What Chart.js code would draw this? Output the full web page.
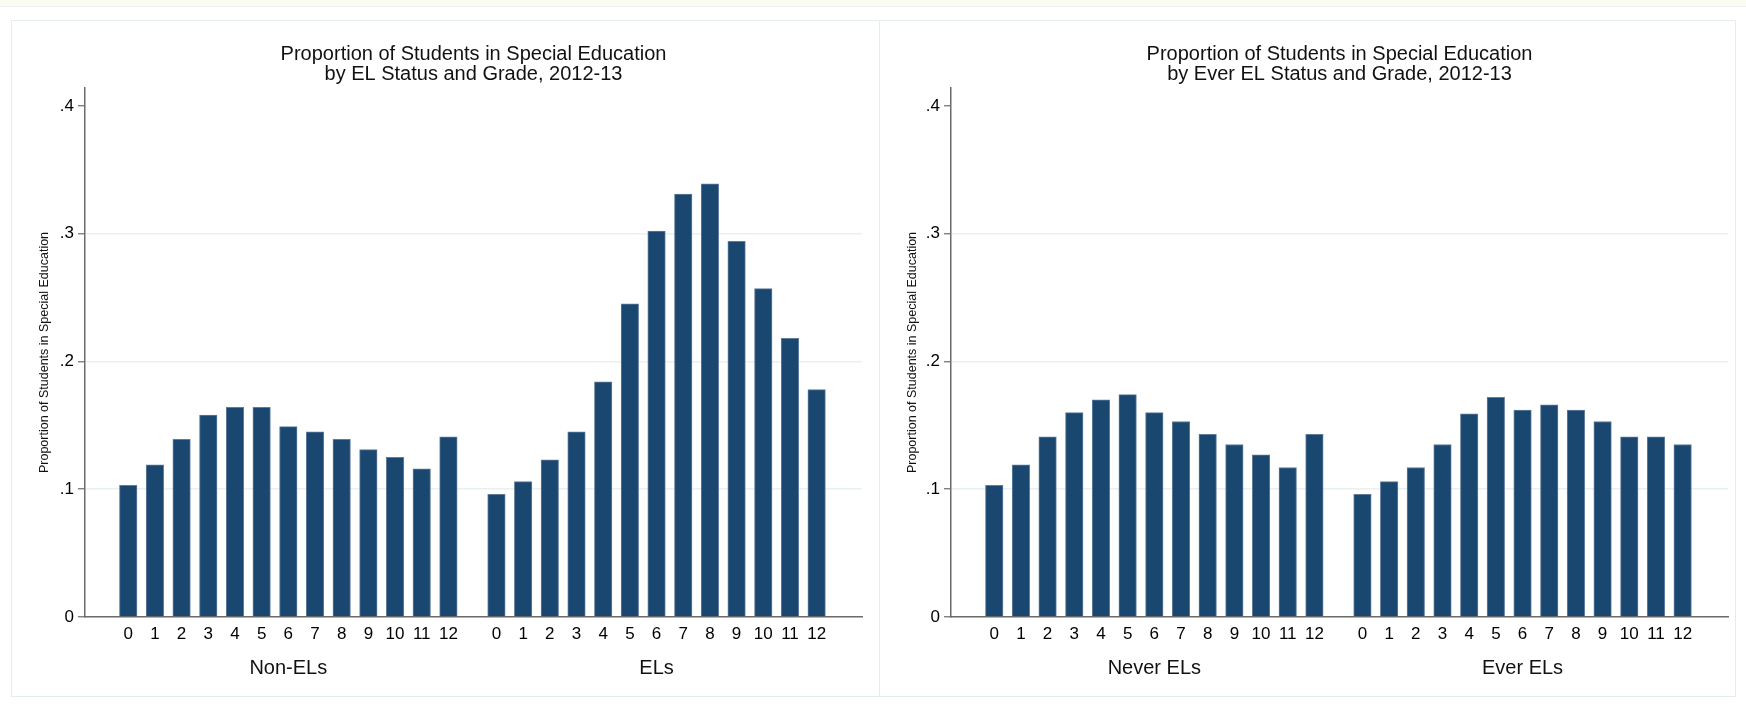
<!DOCTYPE html>
<html>
<head>
<meta charset="utf-8">
<script src="https://cdn.jsdelivr.net/npm/chart.js@4.4.0/dist/chart.umd.min.js"></script>
<style>
  html, body { margin: 0; padding: 0; background: #ffffff; }
  body { width: 1746px; height: 705px; position: relative; overflow: hidden; font-family: "Liberation Sans", Arial, sans-serif; }
  #topband { position: absolute; left: 0; top: 0; width: 1746px; height: 6px; background: #fbfcf1; border-bottom: 1px solid #eef3f1; }
  .panel { position: absolute; top: 20px; height: 677px; border: 1px solid #e5eeee; box-sizing: border-box; }
  #panelLeft { left: 11px; width: 869px; }
  #panelRight { left: 879px; width: 857px; }
  canvas { position: absolute; top: 20px; display: block; }
  #chartLeft { left: 11px; }
  #chartRight { left: 879px; }
</style>
</head>
<body>
<div id="topband"></div>
<div class="panel" id="panelLeft"></div>
<div class="panel" id="panelRight"></div>
<canvas id="chartLeft" width="868" height="676"></canvas>
<canvas id="chartRight" width="856" height="676"></canvas>
<script>
// Grades shown under each bar
const grades = ['0', '1', '2', '3', '4', '5', '6', '7', '8', '9', '10', '11', '12'];

// Share of students in special education, by grade
const nonEL   = [0.103, 0.119, 0.139, 0.158, 0.164, 0.164, 0.149, 0.145, 0.139, 0.131, 0.125, 0.116, 0.141];
const EL      = [0.096, 0.106, 0.123, 0.145, 0.184, 0.245, 0.302, 0.331, 0.339, 0.294, 0.257, 0.218, 0.178];
const neverEL = [0.103, 0.119, 0.141, 0.160, 0.170, 0.174, 0.160, 0.153, 0.143, 0.135, 0.127, 0.117, 0.143];
const everEL  = [0.096, 0.106, 0.117, 0.135, 0.159, 0.172, 0.162, 0.166, 0.162, 0.153, 0.141, 0.141, 0.135];

// Text
const leftTitle  = ['Proportion of Students in Special Education', 'by EL Status and Grade, 2012-13'];
const rightTitle = ['Proportion of Students in Special Education', 'by Ever EL Status and Grade, 2012-13'];
const leftGroups  = ['Non-ELs', 'ELs'];
const rightGroups = ['Never ELs', 'Ever ELs'];
const yTitle = 'Proportion of Students in Special Education';
const yTicks = [0, 0.1, 0.2, 0.3, 0.4];

// Layout of the two bar groups on a continuous x axis
const GROUP_GAP = 1.8;                       // extra space between the groups, in bar slots
const SECOND_START = grades.length - 1 + GROUP_GAP;
const X_MIN = -1.06;
const X_MAX = SECOND_START + grades.length - 1 + 1.14;
const Y_MAX = 0.414;

const BAR = '#1a476f';
const AXIS = '#6b6b6b';
const GRID = '#e9f0f2';
const FONT = '"Liberation Sans", Arial, Helvetica, sans-serif';

function tickText(v) {
  return v === 0 ? '0' : v.toFixed(1).replace(/^0/, '');
}

function makeChart(id, first, second, title, groups, yAxisWidth, rightPad) {
  const firstPts = first.map((v, i) => ({ x: i, y: v }));
  const secondPts = second.map((v, i) => ({ x: SECOND_START + i, y: v }));
  const xPositions = firstPts.map(p => p.x).concat(secondPts.map(p => p.x));

  const labelsPlugin = {
    id: 'panelText',
    afterDraw(chart) {
      const ctx = chart.ctx;
      const area = chart.chartArea;
      const xs = chart.scales.x;
      ctx.save();
      ctx.fillStyle = '#111111';
      ctx.textAlign = 'center';
      ctx.textBaseline = 'alphabetic';

      // two-line title centred over the plot region
      ctx.font = '20px ' + FONT;
      const cx = (area.left + area.right) / 2;
      ctx.fillText(title[0], cx, 39.5);
      ctx.fillText(title[1], cx, 60);

      // group names centred under each block of bars
      const blocks = [firstPts, secondPts];
      blocks.forEach((pts, k) => {
        const a = xs.getPixelForValue(pts[0].x);
        const b = xs.getPixelForValue(pts[pts.length - 1].x);
        ctx.fillText(groups[k], (a + b) / 2, 653.5);
      });

      // rotated y-axis title
      ctx.font = '12.5px ' + FONT;
      ctx.translate(34, (area.top + area.bottom) / 2);
      ctx.rotate(-Math.PI / 2);
      ctx.textBaseline = 'middle';
      ctx.fillText(yTitle, 0, 0);
      ctx.restore();
    }
  };

  const barStyle = {
    backgroundColor: BAR,
    borderColor: '#5f7d9b',
    borderWidth: 1,
    borderSkipped: 'bottom',
    barThickness: 17.5,
    grouped: false
  };

  return new Chart(document.getElementById(id), {
    type: 'bar',
    data: {
      datasets: [
        Object.assign({ label: groups[0], data: firstPts }, barStyle),
        Object.assign({ label: groups[1], data: secondPts }, barStyle)
      ]
    },
    options: {
      responsive: false,
      animation: false,
      events: [],
      layout: { padding: { left: 0, right: rightPad, top: 68, bottom: 0 } },
      plugins: { legend: { display: false }, title: { display: false }, tooltip: { enabled: false } },
      scales: {
        x: {
          type: 'linear',
          min: X_MIN,
          max: X_MAX,
          afterBuildTicks(scale) { scale.ticks = xPositions.map(v => ({ value: v })); },
          afterFit(scale) { scale.height = 79; },
          grid: { display: false },
          border: { display: true, color: AXIS, width: 1.5 },
          ticks: {
            autoSkip: false,
            maxRotation: 0,
            padding: -1,
            color: '#000000',
            font: { family: FONT, size: 17 },
            callback: (value, index) => grades[index % grades.length]
          }
        },
        y: {
          type: 'linear',
          min: 0,
          max: Y_MAX,
          afterBuildTicks(scale) { scale.ticks = yTicks.map(v => ({ value: v })); },
          afterFit(scale) { scale.width = yAxisWidth; },
          grid: {
            color: c => (c.tick && c.tick.value > 0 && c.tick.value < 0.4) ? GRID : 'rgba(0,0,0,0)',
            lineWidth: 1.5,
            tickColor: AXIS,
            tickWidth: 1.2,
            tickLength: 7,
            drawTicks: true
          },
          border: { display: true, color: AXIS, width: 1.5 },
          ticks: {
            padding: 4,
            color: '#000000',
            font: { family: FONT, size: 17 },
            callback: v => tickText(v)
          }
        }
      }
    },
    plugins: [labelsPlugin]
  });
}

makeChart('chartLeft', nonEL, EL, leftTitle, leftGroups, 74, 17);
makeChart('chartRight', neverEL, everEL, rightTitle, rightGroups, 72, 7);
</script>
</body>
</html>
